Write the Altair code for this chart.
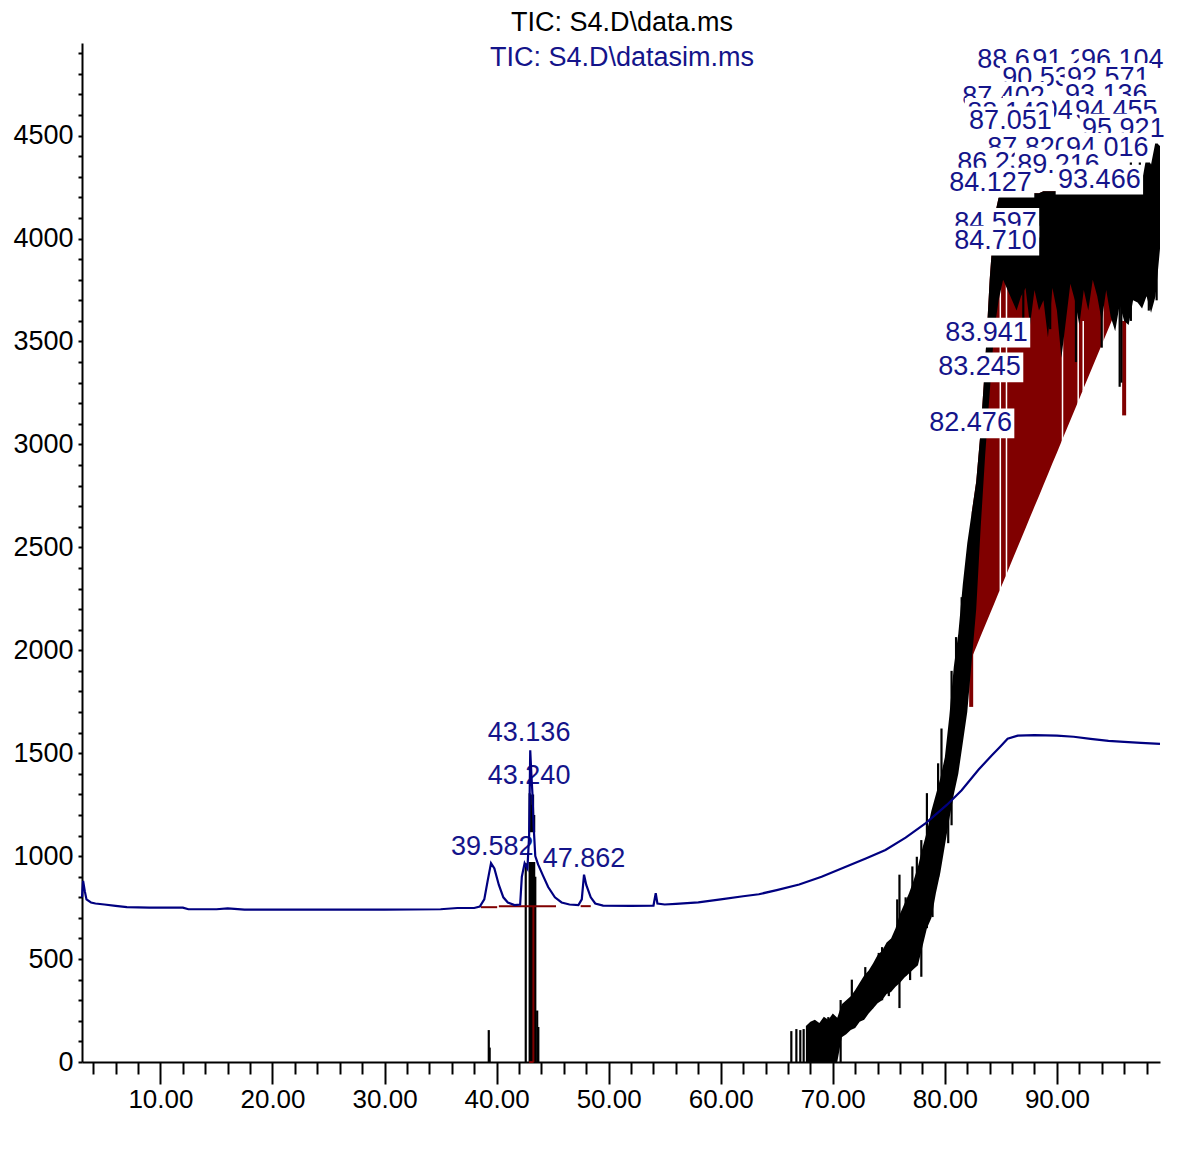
import altair as alt
import pandas as pd

FONT = "Liberation Sans"
NAVY = "#14148a"
LINE_BLUE = "#000080"
RED = "#800000"

TITLE_DATA = "TIC: S4.D\\data.ms"
TITLE_SIM = "TIC: S4.D\\datasim.ms"

# ---- datasim.ms trace (blue) ----
sim_t = [3.0, 3.1, 3.25, 3.4, 3.8, 4.2, 5.0, 6.0, 7.0, 9.0,
         12.0, 12.5, 15.0, 16.0, 17.5, 25.0, 30.0, 35.0, 36.5, 38.0,
         38.5, 38.9, 39.2, 39.5, 39.8, 40.2, 40.6, 41.0, 41.6, 42.1,
         42.25, 42.5, 42.75, 42.9, 43.0, 43.1, 43.2, 43.3, 43.45, 43.7,
         44.1, 44.6, 45.2, 45.8, 46.5, 47.3, 47.6, 47.8, 48.0, 48.2,
         48.4, 48.8, 49.5, 52.0, 54.0, 54.2, 54.35, 55.0, 56.0, 58.0,
         60.0, 62.0, 63.4, 65.0, 67.0, 69.0, 71.0, 73.0, 74.7, 76.5,
         78.3, 80.2, 81.5, 83.0, 84.2, 85.0, 85.6, 86.5, 88.0, 90.0,
         91.5, 93.0, 94.6, 96.0, 97.5, 99.2]
sim_v = [800, 880, 830, 790, 775, 770, 765, 758, 752, 750,
         750, 742, 742, 746, 740, 740, 740, 742, 748, 748,
         755, 790, 880, 966, 940, 860, 800, 775, 762, 765,
         900, 966, 940, 1100, 1514, 1400, 1300, 1150, 1000, 960,
         910, 850, 800, 775, 765, 762, 790, 910, 860, 830,
         800, 770, 760, 758, 760, 820, 770, 765, 768, 775,
         790, 805, 815, 835, 862, 900, 945, 990, 1030, 1090,
         1160, 1250, 1320, 1420, 1490, 1535, 1570, 1585, 1588, 1585,
         1580, 1570, 1560, 1555, 1550, 1545]

# ---- data.ms trace (black), noisy envelope ----
tic_t = [67.6, 68.0, 68.4, 68.8, 69.2, 69.6, 70.0, 70.4, 70.8, 71.2,
         71.6, 72.0, 72.4, 72.8, 73.2, 73.6, 74.0, 74.4, 74.8, 75.2,
         75.6, 76.0, 76.4, 76.8, 77.2, 77.6, 78.0, 78.4, 78.8, 79.2,
         79.6, 80.0, 80.4, 80.8, 81.2, 81.6, 82.0, 82.4, 82.8, 83.2,
         83.6, 84.0, 84.4, 84.8, 85.2, 85.6, 86.0, 86.4, 86.8, 87.2,
         87.6, 88.0, 88.4, 88.8, 89.2, 89.6, 90.0, 90.4, 90.8, 91.2,
         91.6, 92.0, 92.4, 92.8, 93.2, 93.6, 94.0, 94.4, 94.8, 95.2,
         95.6, 96.0, 96.4, 96.8, 97.2, 97.6, 98.0, 98.4, 98.8, 99.2]
tic_lo = [0, 0, 0, 0, 0, 0, 0, 0, 120, 135,
          155, 165, 195, 205, 235, 260, 285, 300, 330, 340,
          365, 385, 410, 430, 450, 470, 560, 650, 700, 820,
          920, 1050, 1180, 1300, 1400, 1550, 1700, 1950, 2200, 2600,
          2950, 3250, 3550, 3700, 3800, 3750, 3700, 3650, 3720, 3760,
          3580, 3750, 3650, 3700, 3520, 3760, 3650, 3420, 3600, 3780,
          3700, 3580, 3750, 3650, 3800, 3720, 3600, 3750, 3620, 3550,
          3680, 3600, 3580, 3700, 3690, 3660, 3720, 3640, 3720, 3950]
tic_hi = [175, 195, 205, 190, 220, 205, 235, 215, 280, 300,
          320, 350, 385, 420, 445, 480, 520, 540, 580, 600,
          650, 720, 770, 820, 880, 950, 1040, 1120, 1220, 1300,
          1380, 1480, 1680, 1920, 2080, 2320, 2520, 2670, 2820, 3070,
          3400, 3800, 4100, 4200, 4210, 4210, 4220, 4220, 4210, 4220,
          4220, 4220, 4220, 4230, 4230, 4230, 4230, 4230, 4230, 4230,
          4230, 4230, 4230, 4230, 4230, 4230, 4240, 4240, 4240, 4250,
          4280, 4300, 4330, 4300, 4350, 4280, 4400, 4360, 4470, 4450]

# isolated black spikes (time, low, high)
spike_t = [39.30, 39.38, 42.60, 42.95, 43.05, 43.15, 43.25, 43.35, 43.45, 43.62,
           43.72, 66.30, 66.75, 67.10, 67.40, 69.60, 70.70, 71.70, 72.30, 72.90,
           73.50, 74.10, 74.40, 75.00, 75.75, 75.95, 76.50, 76.90, 77.10, 77.50,
           77.90, 78.40, 78.90, 79.40, 79.70, 80.30, 80.60, 81.00, 81.50, 87.00,
           89.40, 91.70, 94.00, 95.60, 95.75, 96.60, 97.40, 98.20, 98.90]
spike_lo = [0, 0, 0, 0, 0, 0, 0, 0, 0, 0,
            0, 0, 0, 0, 0, 0, 0, 250, 200, 230,
            260, 400, 300, 320, 500, 262, 420, 398, 700, 480,
            414, 650, 704, 900, 1300, 1063, 1150, 1800, 2100, 3480,
            3560, 3400, 3470, 3280, 3300, 3600, 3700, 3650, 3700]
spike_hi = [155, 70, 966, 1306, 1300, 1250, 1300, 1200, 900, 250,
            170, 150, 160, 155, 160, 218, 301, 400, 350, 461,
            440, 530, 558, 544, 790, 910, 800, 700, 950, 997,
            1078, 1306, 1150, 1451, 1620, 1300, 1900, 2064, 2258, 3800,
            3900, 3800, 3800, 3700, 3700, 4420, 4460, 4480, 4500]

# integration (red) fill: baseline under the black peaks
int_t = [82.4, 82.8, 83.2, 83.6, 84.0, 84.4, 84.8, 85.2, 85.6, 86.0,
         86.4, 86.8, 87.2, 87.6, 88.0, 88.4, 88.8, 89.2, 89.6, 90.0,
         90.4, 90.8, 91.2, 91.6, 92.0, 92.4, 92.8, 93.2, 93.6, 94.0,
         94.4, 94.8, 95.2]
int_base = [1964, 2016, 2069, 2121, 2174, 2226, 2279, 2331, 2383, 2436,
            2488, 2541, 2593, 2646, 2698, 2750, 2803, 2855, 2908, 2960,
            3013, 3065, 3117, 3170, 3222, 3275, 3327, 3380, 3432, 3484,
            3537, 3589, 3642]

# gaps between integrated peaks (white)
gap_t = [84.95, 85.5, 90.5, 91.9, 92.35, 94.1]
gap_lo = [2290, 2360, 3000, 3190, 3260, 3480]
gap_hi = [3900, 3900, 3750, 3900, 3600, 3750]

# narrow red integrated peaks
rpk_t = [82.35, 96.0]
rpk_lo = [1725, 3141]
rpk_hi = [2300, 3600]

# red baselines (segments) and the red drop line at 43.3
bl_t1 = [38.6, 40.2, 47.5, 42.9]
bl_t2 = [40.05, 45.3, 48.4, 43.3]
bl_v = [752, 757, 757, 0]
drop_t = [43.28]
drop_lo = [0]
drop_hi = [755]

# peak labels
lab_text = ["88.682", "91.283", "96.104", "90.530", "92.571", "87.402", "93.136",
            "88.143", "89.945", "94.455", "87.051", "95.921", "87.820", "94.016",
            "86.235", "89.216", "93.466", "84.127", "84.597", "84.710", "83.941",
            "83.245", "82.476", "43.136", "43.240", "39.582", "47.862"]
lab_t = [86.58, 91.48, 95.84, 88.81, 94.59, 85.24, 94.41,
         85.68, 89.07, 95.30, 85.85, 95.93, 87.46, 94.50,
         84.80, 90.14, 93.79, 84.08, 84.52, 84.52, 83.72,
         83.10, 82.30, 42.90, 42.90, 39.61, 47.80]
lab_v = [4869, 4869, 4869, 4781, 4781, 4689, 4699,
         4611, 4621, 4621, 4570, 4534, 4441, 4441,
         4369, 4359, 4286, 4272, 4077, 3990, 3543,
         3374, 3102, 1597, 1388, 1044, 985]

X_TICKS = list(range(4, 99, 2))
Y_TICKS = list(range(0, 5000, 100))
X_DOMAIN = [3.0, 99.2]
Y_DOMAIN = [0, 4950]
BOX_HW = 3.9    # minutes
BOX_HH = 72     # counts

xs = alt.Scale(domain=X_DOMAIN, nice=False, zero=False)
ys = alt.Scale(domain=Y_DOMAIN, nice=False, zero=False)
xaxis = alt.Axis(values=X_TICKS, title=None, grid=False,
                 labelExpr="datum.value % 10 === 0 ? format(datum.value, '.2f') : ''",
                 tickSize={"condition": {"test": "datum.value % 10 === 0", "value": 22}, "value": 12},
                 tickWidth=2, tickColor="black", domainColor="black", domainWidth=2,
                 labelFont=FONT, labelFontSize=26, labelColor="black", labelPadding=2,
                 labelOverlap=False, labelFlush=False)
yaxis = alt.Axis(values=Y_TICKS, title=None, grid=False,
                 labelExpr="datum.value % 500 === 0 ? datum.value : ''",
                 tickSize=4, tickWidth=2, tickColor="black", domainColor="black", domainWidth=2,
                 labelFont=FONT, labelFontSize=27, labelColor="black", labelPadding=5,
                 labelOverlap=False, labelFlush=False)


def X(f):
    return alt.X(f, type="quantitative", scale=xs, axis=xaxis)


def Y(f):
    return alt.Y(f, type="quantitative", scale=ys, axis=yaxis)


band = pd.DataFrame({"t": tic_t, "lo": tic_lo, "hi": tic_hi})
hi_map = dict(zip(tic_t, tic_hi))
integ = pd.DataFrame({"t": int_t, "base": int_base, "top": [hi_map[t] for t in int_t]})
spikes = pd.DataFrame({"t": spike_t, "lo": spike_lo, "hi": spike_hi})
gaps = pd.DataFrame({"t": gap_t, "lo": gap_lo, "hi": gap_hi})
rpk = pd.DataFrame({"t": rpk_t, "lo": rpk_lo, "hi": rpk_hi})
bls = pd.DataFrame({"t1": bl_t1, "t2": bl_t2, "v": bl_v})
drops = pd.DataFrame({"t": drop_t, "lo": drop_lo, "hi": drop_hi})
sim = pd.DataFrame({"t": sim_t, "v": sim_v})

layers = []
layers.append(alt.Chart(integ).mark_area(color=RED, interpolate="linear").encode(
    x=X("t"), y=Y("base"), y2=alt.Y2("top")))
layers.append(alt.Chart(gaps).mark_rule(color="white", strokeWidth=1.5).encode(
    x=X("t"), y=Y("lo"), y2=alt.Y2("hi")))
layers.append(alt.Chart(rpk).mark_rule(color=RED, strokeWidth=4).encode(
    x=X("t"), y=Y("lo"), y2=alt.Y2("hi")))
layers.append(alt.Chart(band).mark_area(color="black", interpolate="linear").encode(
    x=X("t"), y=Y("lo"), y2=alt.Y2("hi")))
layers.append(alt.Chart(spikes).mark_rule(color="black", strokeWidth=2.2).encode(
    x=X("t"), y=Y("lo"), y2=alt.Y2("hi")))
layers.append(alt.Chart(drops).mark_rule(color=RED, strokeWidth=2).encode(
    x=X("t"), y=Y("lo"), y2=alt.Y2("hi")))
layers.append(alt.Chart(bls).mark_rule(color=RED, strokeWidth=2).encode(
    x=X("t1"), x2=alt.X2("t2"), y=Y("v")))

order = sorted(range(len(lab_text)), key=lambda i: -lab_v[i])
for i in order:
    d = pd.DataFrame({"t": [lab_t[i]], "v": [lab_v[i]], "s": [lab_text[i]],
                      "x1": [lab_t[i] - BOX_HW], "x2": [lab_t[i] + BOX_HW],
                      "y1": [lab_v[i] - BOX_HH], "y2": [lab_v[i] + BOX_HH]})
    layers.append(alt.Chart(d).mark_rect(color="white").encode(
        x=X("x1"), x2=alt.X2("x2"), y=Y("y1"), y2=alt.Y2("y2")))
    layers.append(alt.Chart(d).mark_text(font=FONT, fontSize=27, color=NAVY,
                                         align="center", baseline="middle").encode(
        x=X("t"), y=Y("v"), text=alt.Text("s:N")))

layers.append(alt.Chart(sim).mark_line(color=LINE_BLUE, strokeWidth=2.2).encode(
    x=X("t"), y=Y("v")))

titles = pd.DataFrame({"s": [TITLE_DATA, TITLE_SIM], "c": ["black", NAVY],
                       "py": [-20, 15]})
layers.append(alt.Chart(titles).mark_text(font=FONT, fontSize=27, align="center",
                                          baseline="middle").encode(
    text=alt.Text("s:N"), x=alt.value(540), y=alt.Y("py:Q", scale=None, axis=None),
    color=alt.Color("c:N", scale=None)))

chart = alt.layer(*layers).properties(
    width=1078, height=1019,
    autosize=alt.AutoSizeParams(type="none"),
    padding={"left": 74, "top": 35, "right": 10, "bottom": 95},
).configure_view(stroke=None)

chart.save("out.html", embed_options={"renderer": "svg", "actions": False})
